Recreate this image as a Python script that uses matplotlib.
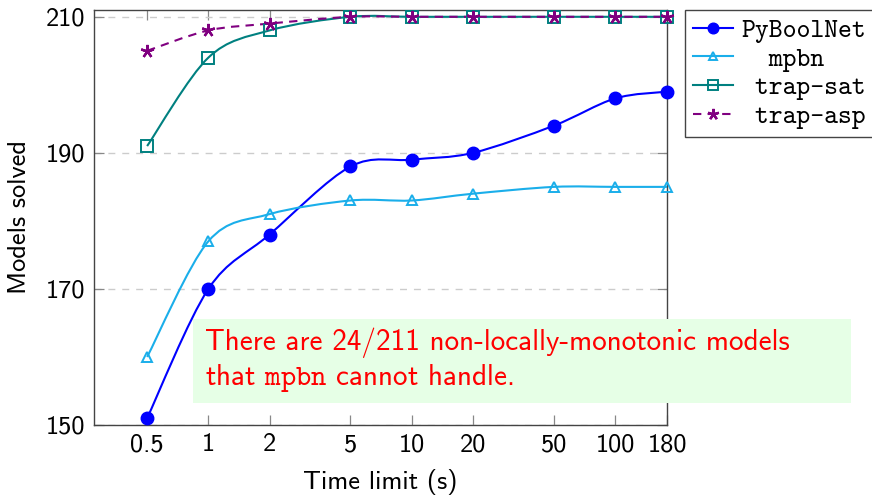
import numpy as np
import matplotlib
matplotlib.use("Agg")
import matplotlib.pyplot as plt
from matplotlib.path import Path
from matplotlib.patches import PathPatch, Rectangle
from matplotlib.lines import Line2D

# Number of models solved within each time limit
time_limits = [0.5, 1, 2, 5, 10, 20, 50, 100, 180]
tick_labels = ["0.5", "1", "2", "5", "10", "20", "50", "100", "180"]
pyboolnet = [151, 170, 178, 188, 189, 190, 194, 198, 199]
mpbn = [160, 177, 181, 183, 183, 184, 185, 185, 185]
trap_sat = [191, 204, 208, 210, 210, 210, 210, 210, 210]
trap_asp = [205, 208, 209, 210, 210, 210, 210, 210, 210]
y_ticks = [150, 170, 190, 210]

plt.rcParams["font.family"] = "cmss10"
plt.rcParams["mathtext.fontset"] = "cm"
plt.rcParams["axes.unicode_minus"] = False

W, H = 872, 495
fig = plt.figure(figsize=(W / 100, H / 100), dpi=100)
ax = fig.add_axes([94 / W, (H - 425) / H, (667 - 94) / W, (425 - 10) / H])
ax.set_xscale("log")
ax.set_xlim(0.274, 180)
ax.set_ylim(150, 211)


def smooth_path(xs, ys, k=0.16):
    """Cardinal-spline Bezier path through the points (log-x space)."""
    pts = np.column_stack([np.log10(xs), np.asarray(ys, float)])
    n = len(pts)
    verts = [pts[0]]
    codes = [Path.MOVETO]
    for i in range(n - 1):
        prev = pts[i - 1] if i > 0 else pts[i]
        nxt = pts[i + 2] if i + 2 < n else pts[i + 1]
        c1 = pts[i] + k * (pts[i + 1] - prev)
        c2 = pts[i + 1] - k * (nxt - pts[i])
        verts += [c1, c2, pts[i + 1]]
        codes += [Path.CURVE4] * 3
    verts = np.array(verts)
    verts[:, 0] = 10 ** verts[:, 0]
    return Path(verts, codes)


series = [
    ("PyBoolNet", pyboolnet, "#0000ff", "o", dict(mfc="#0000ff", ms=9), "-"),
    ("mpbn", mpbn, "#1aaeea", "^", dict(mfc="none", ms=7.5, mew=1.4), "-"),
    ("trap-sat", trap_sat, "#008080", "s", dict(mfc="none", ms=8, mew=1.4), "-"),
    ("trap-asp", trap_asp, "#800080", (5, 2, 0), dict(ms=9.5, mew=1.7), (0, (4, 3))),
]

handles = []
for name, vals, color, marker, mkw, ls in series:
    patch = PathPatch(smooth_path(time_limits, vals), fill=False, ec=color,
                      lw=1.5, linestyle=ls, transform=ax.transData, zorder=3)
    ax.add_patch(patch)
    ax.plot(time_limits, vals, linestyle="none", marker=marker, color=color,
            mec=color, clip_on=False, zorder=4, **mkw)
    handles.append(Line2D([], [], color=color, lw=1.5, linestyle=ls,
                          marker=marker, mec=color, **{**mkw, "ms": mkw["ms"] * 0.85}))

ax.set_xticks(time_limits)
ax.set_xticklabels(tick_labels)
ax.xaxis.set_minor_locator(matplotlib.ticker.NullLocator())
ax.set_yticks(y_ticks)
ax.tick_params(axis="both", which="major", direction="in", length=7, width=0.9,
               color="#888888", labelsize=19, top=True, right=True, pad=6)
ax.grid(axis="y", linestyle=(0, (5, 5)), color="#cccccc", lw=1)
for sp in ax.spines.values():
    sp.set_color("#444444")
    sp.set_linewidth(1)

ax.set_xlabel("Time limit (s)", fontsize=19, labelpad=9)
ax.set_ylabel("Models solved", fontsize=19, labelpad=11)

labels = ["PyBoolNet", "  mpbn", " trap-sat", " trap-asp"]
leg = fig.legend(handles, labels, loc="upper left",
                 bbox_to_anchor=(685 / W, 1 - 10 / H), borderaxespad=0,
                 prop={"family": "cmtt10", "size": 19}, numpoints=1,
                 handlelength=1.5, handletextpad=0.3, labelspacing=0.16,
                 fancybox=False, framealpha=1, edgecolor="#444444",
                 borderpad=0.32)
leg.get_frame().set_linewidth(1)

# Note box
fig.patches.append(Rectangle((193 / W, (H - 403) / H), (851 - 193) / W, (403 - 319) / H,
                             transform=fig.transFigure, facecolor="#e6ffe6",
                             edgecolor="none", zorder=5))
fig.text(205 / W, (H - 350) / H, "There are 24/211 non-locally-monotonic models",
         color="#ff0000", fontsize=21, va="baseline", zorder=6)
fig.text(205 / W, (H - 385) / H, r"that $\mathtt{mpbn}$ cannot handle.",
         color="#ff0000", fontsize=21, va="baseline", zorder=6)

fig.savefig("out.png", dpi=100)
